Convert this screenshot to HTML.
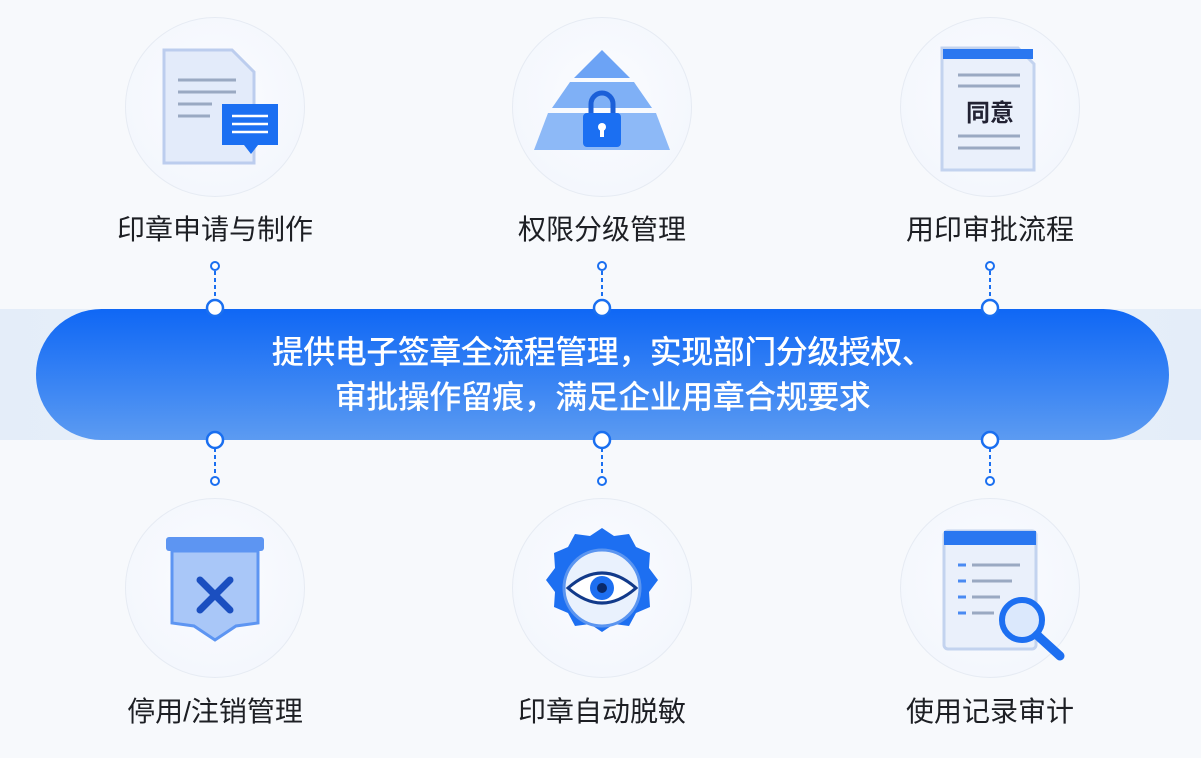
<!DOCTYPE html>
<html><head><meta charset="utf-8"><style>
html,body{margin:0;padding:0}
body{width:1201px;height:758px;background:#f7f9fc;position:relative;overflow:hidden;font-family:"Liberation Sans","Noto Sans CJK SC",sans-serif}
.c{position:absolute;width:180px;height:180px;border-radius:50%;background:radial-gradient(circle at 50% 45%,#fbfcff 0%,#f1f5fc 100%);border:1.5px solid #e6ebf3;box-sizing:border-box}
.l{position:absolute;width:300px;text-align:center;font-size:28px;color:#1d1f24;line-height:30px}
.strip{position:absolute;left:0;top:309px;width:1201px;height:131px;background:linear-gradient(90deg,#e4edf9,#eef3fb 50%,#e4edf9)}
.pill{position:absolute;left:36px;top:309px;width:1133px;height:131px;border-radius:66px;background:linear-gradient(180deg,#0f67f5 0%,#3c86f3 60%,#5c9bf2 100%);color:#fff;text-align:center;font-size:32px;font-weight:500;line-height:45px;box-sizing:border-box;padding-top:21px;letter-spacing:-0.5px}
</style></head><body>
<div class="strip"></div>
<div class="pill">提供电子签章全流程管理，实现部门分级授权、<br>审批操作留痕，满足企业用章合规要求</div>
<svg width="1201" height="758" style="position:absolute;left:0;top:0">
<g stroke="#1a6ff0" fill="#fff" stroke-width="2">
<g transform="translate(215,0)"><line x1="0" y1="271" x2="0" y2="300" stroke-dasharray="4,3"/><circle cx="0" cy="266" r="4"/><circle cx="0" cy="308" r="8" stroke-width="2.5"/></g>
<g transform="translate(602,0)"><line x1="0" y1="271" x2="0" y2="300" stroke-dasharray="4,3"/><circle cx="0" cy="266" r="4"/><circle cx="0" cy="308" r="8" stroke-width="2.5"/></g>
<g transform="translate(990,0)"><line x1="0" y1="271" x2="0" y2="300" stroke-dasharray="4,3"/><circle cx="0" cy="266" r="4"/><circle cx="0" cy="308" r="8" stroke-width="2.5"/></g>
<g transform="translate(215,0)"><line x1="0" y1="448" x2="0" y2="476" stroke-dasharray="4,3"/><circle cx="0" cy="481" r="4"/><circle cx="0" cy="440" r="8" stroke-width="2.5"/></g>
<g transform="translate(602,0)"><line x1="0" y1="448" x2="0" y2="476" stroke-dasharray="4,3"/><circle cx="0" cy="481" r="4"/><circle cx="0" cy="440" r="8" stroke-width="2.5"/></g>
<g transform="translate(990,0)"><line x1="0" y1="448" x2="0" y2="476" stroke-dasharray="4,3"/><circle cx="0" cy="481" r="4"/><circle cx="0" cy="440" r="8" stroke-width="2.5"/></g>
</g>
</svg>
<div class="c" style="left:125px;top:17px"></div>
<div class="c" style="left:512px;top:17px"></div>
<div class="c" style="left:900px;top:17px"></div>
<div class="c" style="left:125px;top:498px"></div>
<div class="c" style="left:512px;top:498px"></div>
<div class="c" style="left:900px;top:498px"></div>
<svg width="1201" height="758" style="position:absolute;left:0;top:0">
<path d="M164 50 H232 L254 72 V163 H164 Z" fill="#e3ebfa" stroke="#bccdee" stroke-width="3"/>
<g stroke="#9aa9c2" stroke-width="3"><line x1="178" y1="80" x2="236" y2="80"/><line x1="178" y1="92" x2="236" y2="92"/><line x1="178" y1="104" x2="212" y2="104"/><line x1="178" y1="116" x2="210" y2="116"/></g>
<path d="M222 104 H278 V145 H258 L251 154 L244 145 H222 Z" fill="#1b6ff2"/>
<g stroke="#fff" stroke-width="2.5"><line x1="232" y1="116" x2="268" y2="116"/><line x1="232" y1="124" x2="268" y2="124"/><line x1="232" y1="132" x2="268" y2="132"/></g>
<path d="M602 50 L630 78 H574 Z" fill="#6ca3f5"/>
<path d="M570 82 H634 L652 108 H552 Z" fill="#7fb0f6"/>
<path d="M548 113 H656 L670 150 H534 Z" fill="#8db9f7"/>
<path d="M591 114 V104 a11 11 0 0 1 22 0 V114" fill="none" stroke="#1b5fd8" stroke-width="5"/>
<rect x="583" y="113" width="38" height="34" rx="4" fill="#1b6ff2"/>
<circle cx="602" cy="127" r="4" fill="#fff"/><rect x="600" y="128" width="4" height="9" fill="#fff"/>
<path d="M942 48 H1018 L1034 64 V170 H942 Z" fill="#eaf0fb" stroke="#c3d3ef" stroke-width="3"/>
<rect x="943" y="49" width="90" height="10" fill="#2a77f0"/>
<text x="990" y="121" font-size="24" font-weight="bold" text-anchor="middle" fill="#223" font-family="Liberation Sans,Noto Sans CJK SC,sans-serif">同意</text>
<g stroke="#9aa9c2" stroke-width="3"><line x1="958" y1="75" x2="1020" y2="75"/><line x1="958" y1="86" x2="1020" y2="86"/><line x1="958" y1="136" x2="1020" y2="136"/><line x1="958" y1="148" x2="1020" y2="148"/></g>
<rect x="166" y="537" width="98" height="14" rx="3" fill="#5d95f2"/>
<path d="M172 551 H258 V623 L236 626 L215 640 L194 626 L172 623 Z" fill="#a9c7f8" stroke="#5d95f2" stroke-width="3"/>
<g stroke="#1b4fc0" stroke-width="7" stroke-linecap="round"><line x1="200" y1="580" x2="230" y2="610"/><line x1="230" y1="580" x2="200" y2="610"/></g>
<path d="M602 528 l12 8 15 -2 7 13 14 6 -1 15 9 12 -9 12 1 15 -14 6 -7 13 -15 -2 -12 8 -12 -8 -15 2 -7 -13 -14 -6 1 -15 -9 -12 9 -12 -1 -15 14 -6 7 -13 15 2 Z" fill="#1d6ff1"/>
<circle cx="602" cy="588" r="38" fill="#e9f1fd" stroke="#5b95f0" stroke-width="3"/>
<path d="M568 588 Q602 558 636 588 Q602 618 568 588 Z" fill="#fff" stroke="#123a8a" stroke-width="3"/>
<circle cx="602" cy="588" r="12" fill="#1d6ff1"/><circle cx="602" cy="588" r="5" fill="#0a2a6a"/>
<rect x="944" y="531" width="92" height="118" rx="4" fill="#eaf0fb" stroke="#c3d3ef" stroke-width="3"/>
<rect x="944" y="531" width="92" height="14" fill="#2a77f0"/>
<g stroke-width="3"><g stroke="#4a8af2"><line x1="958" y1="565" x2="966" y2="565"/><line x1="958" y1="581" x2="966" y2="581"/><line x1="958" y1="597" x2="966" y2="597"/><line x1="958" y1="613" x2="966" y2="613"/></g>
<g stroke="#9aa9c2"><line x1="972" y1="565" x2="1020" y2="565"/><line x1="972" y1="581" x2="1012" y2="581"/><line x1="972" y1="597" x2="1000" y2="597"/><line x1="972" y1="613" x2="994" y2="613"/></g></g>
<circle cx="1022" cy="620" r="20" fill="#dbe8fc" stroke="#1d6ff1" stroke-width="6"/>
<line x1="1037" y1="635" x2="1060" y2="656" stroke="#1d6ff1" stroke-width="9" stroke-linecap="round"/>
</svg>
<div class="l" style="left:65px;top:215px">印章申请与制作</div>
<div class="l" style="left:452px;top:215px">权限分级管理</div>
<div class="l" style="left:840px;top:215px">用印审批流程</div>
<div class="l" style="left:65px;top:697px">停用/注销管理</div>
<div class="l" style="left:452px;top:697px">印章自动脱敏</div>
<div class="l" style="left:840px;top:697px">使用记录审计</div>
</body></html>
